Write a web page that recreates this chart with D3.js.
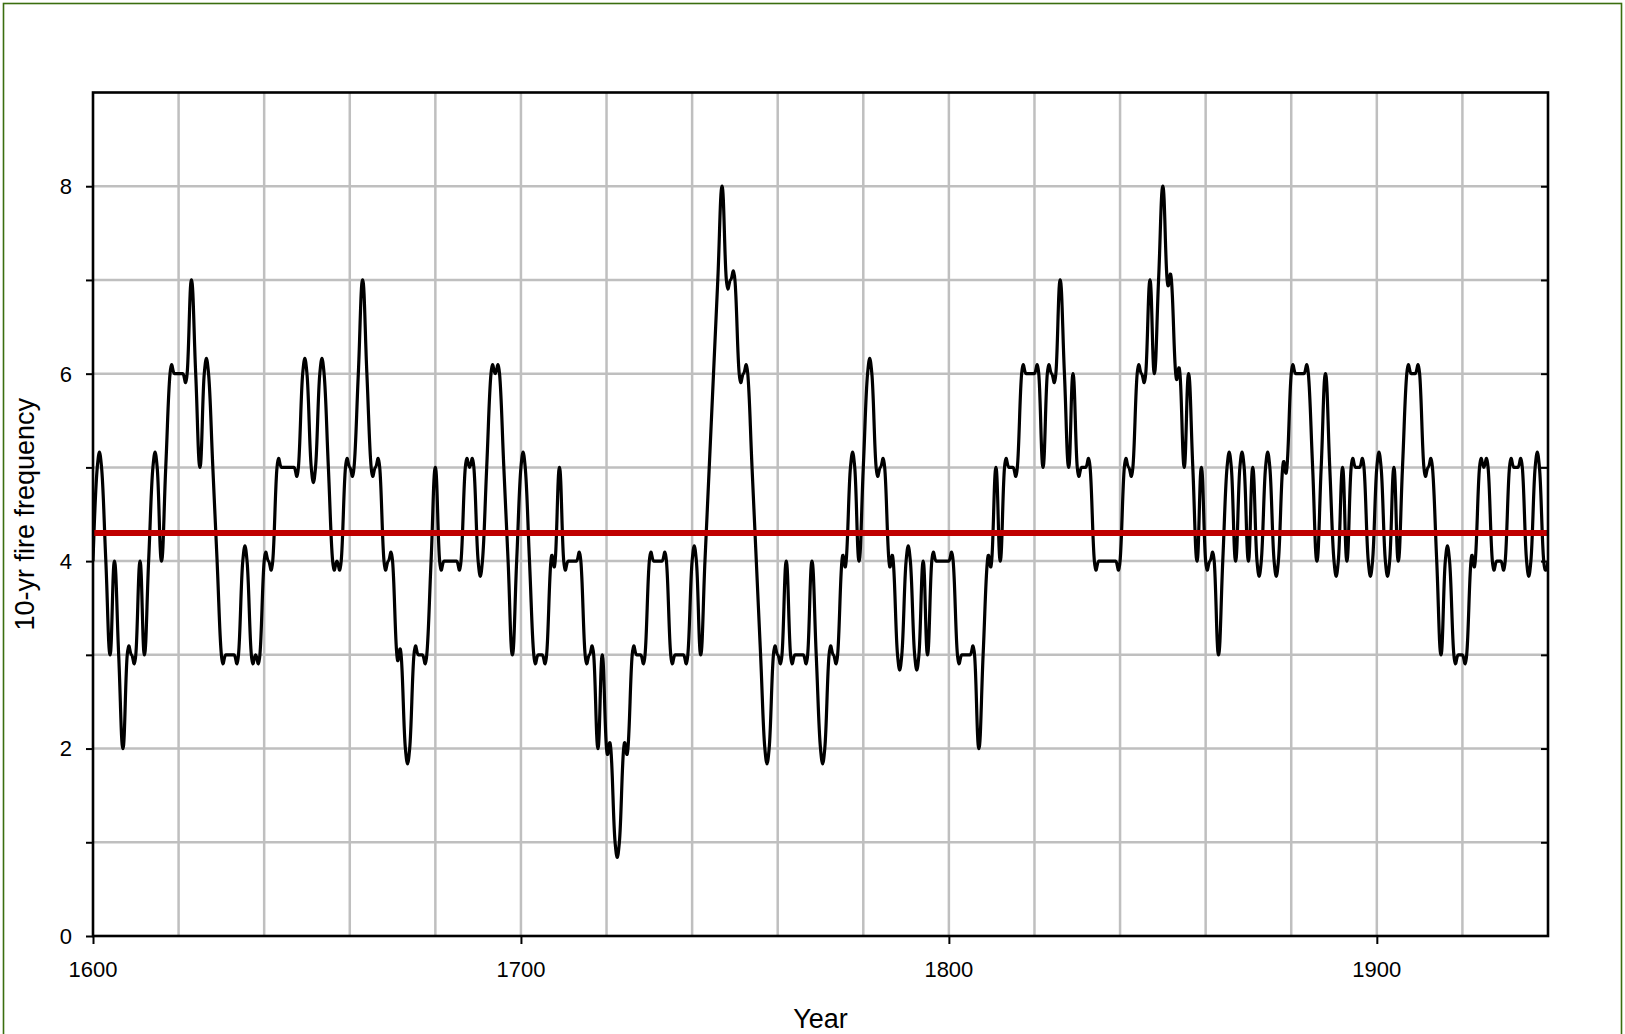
<!DOCTYPE html>
<html>
<head>
<meta charset="utf-8">
<script src="https://cdn.jsdelivr.net/npm/d3@7/dist/d3.min.js"></script>
<style>
  html, body { margin: 0; padding: 0; background: #ffffff; }
  svg { display: block; font-family: "Liberation Sans", Arial, sans-serif; }
</style>
</head>
<body>
<svg id="chart" width="1625" height="1034"></svg>
<script>
// ---- data ----
const startYear = 1600;
// annual 10-yr fire frequency, 1600 .. 1940
const frequency = [
  // 1600-1609
  4, 5, 5, 4, 3, 4, 3, 2, 3, 3,
  // 1610-1619
  3, 4, 3, 4, 5, 5, 4, 5, 6, 6,
  // 1620-1629
  6, 6, 6, 7, 6, 5, 6, 6, 5, 4,
  // 1630-1639
  3, 3, 3, 3, 3, 4, 4, 3, 3, 3,
  // 1640-1649
  4, 4, 4, 5, 5, 5, 5, 5, 5, 6,
  // 1650-1659
  6, 5, 5, 6, 6, 5, 4, 4, 4, 5,
  // 1660-1669
  5, 5, 6, 7, 6, 5, 5, 5, 4, 4,
  // 1670-1679
  4, 3, 3, 2, 2, 3, 3, 3, 3, 4,
  // 1680-1689
  5, 4, 4, 4, 4, 4, 4, 5, 5, 5,
  // 1690-1699
  4, 4, 5, 6, 6, 6, 5, 4, 3, 4,
  // 1700-1709
  5, 5, 4, 3, 3, 3, 3, 4, 4, 5,
  // 1710-1719
  4, 4, 4, 4, 4, 3, 3, 3, 2, 3,
  // 1720-1729
  2, 2, 1, 1, 2, 2, 3, 3, 3, 3,
  // 1730-1739
  4, 4, 4, 4, 4, 3, 3, 3, 3, 3,
  // 1740-1749
  4, 4, 3, 4, 5, 6, 7, 8, 7, 7,
  // 1750-1759
  7, 6, 6, 6, 5, 4, 3, 2, 2, 3,
  // 1760-1769
  3, 3, 4, 3, 3, 3, 3, 3, 4, 3,
  // 1770-1779
  2, 2, 3, 3, 3, 4, 4, 5, 5, 4,
  // 1780-1789
  5, 6, 6, 5, 5, 5, 4, 4, 3, 3,
  // 1790-1799
  4, 4, 3, 3, 4, 3, 4, 4, 4, 4,
  // 1800-1809
  4, 4, 3, 3, 3, 3, 3, 2, 3, 4,
  // 1810-1819
  4, 5, 4, 5, 5, 5, 5, 6, 6, 6,
  // 1820-1829
  6, 6, 5, 6, 6, 6, 7, 6, 5, 6,
  // 1830-1839
  5, 5, 5, 5, 4, 4, 4, 4, 4, 4,
  // 1840-1849
  4, 5, 5, 5, 6, 6, 6, 7, 6, 7,
  // 1850-1859
  8, 7, 7, 6, 6, 5, 6, 5, 4, 5,
  // 1860-1869
  4, 4, 4, 3, 4, 5, 5, 4, 5, 5,
  // 1870-1879
  4, 5, 4, 4, 5, 5, 4, 4, 5, 5,
  // 1880-1889
  6, 6, 6, 6, 6, 5, 4, 5, 6, 5,
  // 1890-1899
  4, 4, 5, 4, 5, 5, 5, 5, 4, 4,
  // 1900-1909
  5, 5, 4, 4, 5, 4, 5, 6, 6, 6,
  // 1910-1919
  6, 5, 5, 5, 4, 3, 4, 4, 3, 3,
  // 1920-1929
  3, 3, 4, 4, 5, 5, 5, 4, 4, 4,
  // 1930-1940
  4, 5, 5, 5, 5, 4, 4, 5, 5, 4, 4
];
const meanFrequency = 4.3;
const xDomain = [1600, 1940];
const yDomain = [0, 9];
const xTickLabels = [1600, 1700, 1800, 1900];
const xGridYears = [1620, 1640, 1660, 1680, 1700, 1720, 1740, 1760, 1780, 1800, 1820, 1840, 1860, 1880, 1900, 1920];
const yTickLabels = [0, 2, 4, 6, 8];
const yGridValues = [1, 2, 3, 4, 5, 6, 7, 8];
const xTitle = "Year";
const yTitle = "10-yr fire frequency";

// ---- layout ----
const W = 1625, H = 1034;
const plot = { left: 93, right: 1548, top: 92.5, bottom: 936 };

const svg = d3.select("#chart");

// outer frame
svg.append("rect")
  .attr("x", 3.5).attr("y", 3.5)
  .attr("width", W - 7).attr("height", H + 20)
  .attr("fill", "#ffffff")
  .attr("stroke", "#3b6e0f")
  .attr("stroke-width", 1.6);

const x = d3.scaleLinear().domain(xDomain).range([plot.left, plot.right]);
const y = d3.scaleLinear().domain(yDomain).range([plot.bottom, plot.top]);

// gridlines
const grid = svg.append("g").attr("stroke", "#bfbfbf").attr("stroke-width", 2.5);
grid.selectAll("line.v").data(xGridYears).enter().append("line")
  .attr("x1", d => x(d)).attr("x2", d => x(d))
  .attr("y1", plot.top).attr("y2", plot.bottom);
grid.selectAll("line.h").data(yGridValues).enter().append("line")
  .attr("x1", plot.left).attr("x2", plot.right)
  .attr("y1", d => y(d)).attr("y2", d => y(d));

// data line
const series = frequency.map((v, i) => ({ year: startYear + i, value: v }));
const line = d3.line()
  .x(d => x(d.year))
  .y(d => y(d.value))
  .curve(d3.curveCardinal.tension(-0.3));

svg.append("defs").append("clipPath").attr("id", "plotClip")
  .append("rect")
  .attr("x", plot.left).attr("y", plot.top)
  .attr("width", plot.right - plot.left).attr("height", plot.bottom - plot.top);

svg.append("path")
  .datum(series)
  .attr("clip-path", "url(#plotClip)")
  .attr("fill", "none")
  .attr("stroke", "#000000")
  .attr("stroke-width", 3.2)
  .attr("stroke-linejoin", "round")
  .attr("d", line);

// mean line
svg.append("line")
  .attr("x1", x(xDomain[0])).attr("x2", x(xDomain[1]))
  .attr("y1", y(meanFrequency)).attr("y2", y(meanFrequency))
  .attr("stroke", "#c00000")
  .attr("stroke-width", 6);

// axes
const yAxisL = d3.axisLeft(y).tickValues(yGridValues.concat([0])).tickSize(7).tickFormat("");
const yAxisR = d3.axisLeft(y).tickValues(yGridValues).tickSize(7).tickFormat("");
const xAxisB = d3.axisBottom(x).tickValues(xTickLabels).tickSize(8).tickFormat("");

function styleAxis(g) {
  g.select(".domain").remove();
  g.selectAll(".tick line").attr("stroke", "#000").attr("stroke-width", 2);
}
svg.append("g").attr("transform", `translate(${plot.left},0)`).call(yAxisL).call(styleAxis);
svg.append("g").attr("transform", `translate(${plot.right},0)`).call(yAxisR).call(styleAxis);
svg.append("g").attr("transform", `translate(0,${plot.bottom})`).call(xAxisB).call(styleAxis);

// plot frame
svg.append("rect")
  .attr("x", plot.left).attr("y", plot.top)
  .attr("width", plot.right - plot.left).attr("height", plot.bottom - plot.top)
  .attr("fill", "none").attr("stroke", "#000").attr("stroke-width", 2.6);

// tick labels
svg.append("g").selectAll("text").data(yTickLabels).enter().append("text")
  .attr("x", plot.left - 21).attr("y", d => y(d)).attr("dy", "0.36em")
  .attr("text-anchor", "end")
  .attr("font-size", 22).attr("fill", "#000")
  .text(d => d);

svg.append("g").selectAll("text").data(xTickLabels).enter().append("text")
  .attr("x", d => x(d)).attr("y", plot.bottom + 41)
  .attr("text-anchor", "middle")
  .attr("font-size", 22).attr("fill", "#000")
  .text(d => d);

// titles
svg.append("text")
  .attr("x", (plot.left + plot.right) / 2).attr("y", 1028)
  .attr("text-anchor", "middle")
  .attr("font-size", 27).attr("fill", "#000")
  .text(xTitle);

svg.append("text")
  .attr("transform", `translate(34,${(plot.top + plot.bottom) / 2}) rotate(-90)`)
  .attr("text-anchor", "middle")
  .attr("font-size", 27).attr("fill", "#000")
  .text(yTitle);
</script>
</body>
</html>
